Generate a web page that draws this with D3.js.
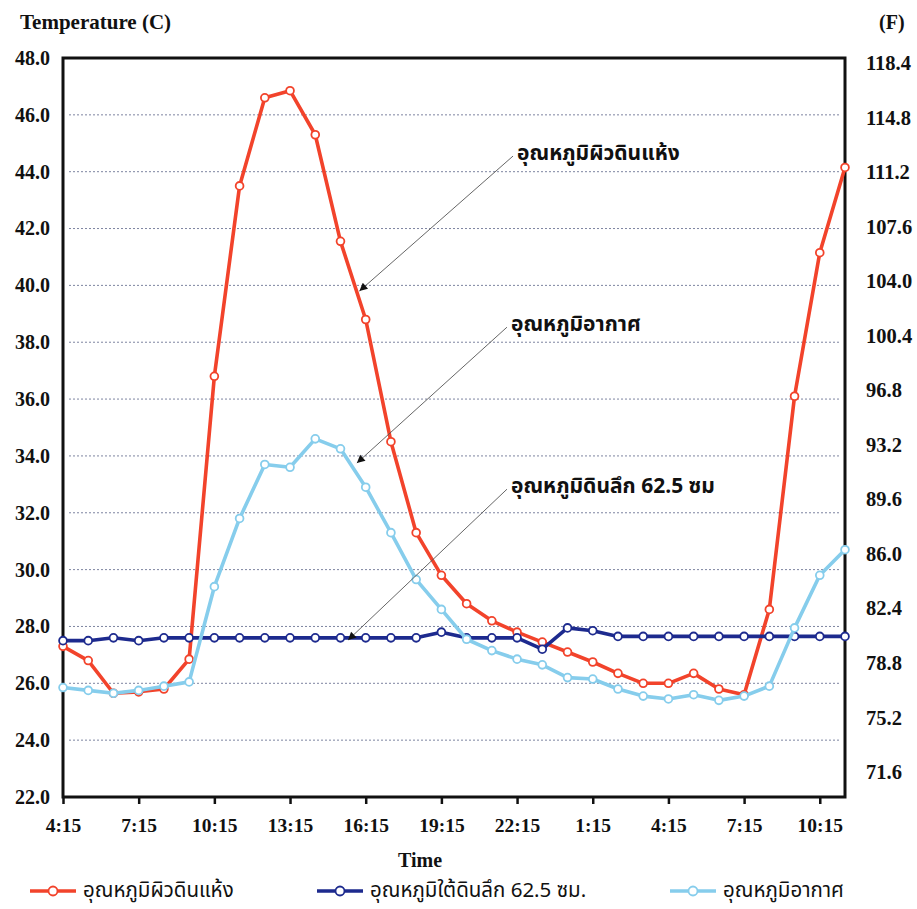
<!DOCTYPE html>
<html>
<head>
<meta charset="utf-8">
<script src="https://cdn.jsdelivr.net/npm/d3@7"></script>
<style>
  body { margin: 0; background: #fff; }
  svg text { fill: #111; }
</style>
</head>
<body>
<svg id="chart" width="917" height="909"></svg>
<script>
// Hourly readings, 4:15 on day one through 11:15 the next day
const times = ["4:15","5:15","6:15","7:15","8:15","9:15","10:15","11:15","12:15","13:15",
  "14:15","15:15","16:15","17:15","18:15","19:15","20:15","21:15","22:15","23:15",
  "0:15","1:15","2:15","3:15","4:15","5:15","6:15","7:15","8:15","9:15","10:15","11:15"];

// Dry soil surface temperature (°C)
const drySurface = [27.3, 26.8, 25.65, 25.7, 25.8, 26.85, 36.8, 43.5, 46.6, 46.85,
  45.3, 41.55, 38.8, 34.5, 31.3, 29.8, 28.8, 28.2, 27.8, 27.45,
  27.1, 26.75, 26.35, 26.0, 26.0, 26.35, 25.8, 25.6, 28.6, 36.1, 41.15, 44.15];

// Soil temperature at 62.5 cm depth (°C)
const deepSoil = [27.5, 27.5, 27.6, 27.5, 27.6, 27.6, 27.6, 27.6, 27.6, 27.6,
  27.6, 27.6, 27.6, 27.6, 27.6, 27.8, 27.6, 27.6, 27.6, 27.2,
  27.95, 27.85, 27.65, 27.65, 27.65, 27.65, 27.65, 27.65, 27.65, 27.65, 27.65, 27.65];

// Air temperature (°C)
const airTemp = [25.85, 25.75, 25.65, 25.75, 25.9, 26.05, 29.4, 31.8, 33.7, 33.6,
  34.6, 34.25, 32.9, 31.3, 29.65, 28.6, 27.55, 27.15, 26.85, 26.65,
  26.2, 26.15, 25.8, 25.55, 25.45, 25.6, 25.4, 25.55, 25.9, 27.95, 29.8, 30.7];

const celsiusTicks = [22, 24, 26, 28, 30, 32, 34, 36, 38, 40, 42, 44, 46, 48];
const fahrenheitTicks = [71.6, 75.2, 78.8, 82.4, 86.0, 89.6, 93.2, 96.8, 100.4, 104.0, 107.6, 111.2, 114.8, 118.4];
const timeTickIndex = [0, 3, 6, 9, 12, 15, 18, 21, 24, 27, 30];

const seriesNames = ["อุณหภูมิผิวดินแห้ง", "อุณหภูมิใต้ดินลึก 62.5 ซม.", "อุณหภูมิอากาศ"];
const seriesColors = ["#f2432b", "#1d2a8e", "#86cdec"];

// Callout labels: text anchor and arrow target, in (hour index, °C)
const calloutText = ["อุณหภูมิผิวดินแห้ง", "อุณหภูมิอากาศ", "อุณหภูมิดินลึก 62.5 ซม"];
const calloutFrom = [[17.84, 44.55], [17.6, 38.53], [17.6, 32.83]];
const calloutTo = [[11.75, 39.8], [11.65, 33.75], [11.3, 27.52]];

const svg = d3.select("#chart");
const plotLeft = 63, plotRight = 845, plotTop = 58, plotBottom = 797;

const x = d3.scaleLinear().domain([0, times.length - 1]).range([plotLeft, plotRight]);
const y = d3.scaleLinear().domain([22, 48]).range([plotBottom, plotTop]);
const yF = d3.scaleLinear().domain([71.6, 118.4]).range([772, 63]);

const serif = "'Liberation Serif', 'Times New Roman', serif";
const thai = "'Noto Sans Thai', 'Noto Sans', 'DejaVu Sans', sans-serif";

// Arrow marker for callouts
svg.append("defs").append("marker")
  .attr("id", "arrow").attr("viewBox", "0 0 10 10")
  .attr("refX", 10).attr("refY", 5)
  .attr("markerWidth", 12).attr("markerHeight", 8)
  .attr("markerUnits", "userSpaceOnUse")
  .attr("orient", "auto")
  .append("path").attr("d", "M0,0 L10,5 L0,10 Z").attr("fill", "#111");

// Gridlines
svg.append("g").selectAll("line")
  .data(celsiusTicks.filter(d => d > 22 && d < 48))
  .join("line")
  .attr("x1", plotLeft + 6).attr("x2", plotRight - 4)
  .attr("y1", d => y(d)).attr("y2", d => y(d))
  .attr("stroke", "#7d84a0").attr("stroke-width", 1)
  .attr("stroke-dasharray", "2,2");

// Left axis (°C)
const yAxis = svg.append("g").attr("transform", `translate(${plotLeft},0)`)
  .call(d3.axisLeft(y).tickValues(celsiusTicks).tickFormat(d3.format(".1f")).tickSize(0).tickPadding(13));
yAxis.select(".domain").remove();
yAxis.selectAll("text").attr("font-family", serif).attr("font-weight", "bold").attr("font-size", 20);

// Right axis (°F)
const yAxisR = svg.append("g").attr("transform", `translate(${plotRight},0)`)
  .call(d3.axisRight(yF).tickValues(fahrenheitTicks).tickFormat(d3.format(".1f")).tickSize(0).tickPadding(21));
yAxisR.select(".domain").remove();
yAxisR.selectAll("text").attr("font-family", serif).attr("font-weight", "bold").attr("font-size", 20.5);

// Bottom axis (time)
const xAxis = svg.append("g").attr("transform", `translate(0,${plotBottom})`)
  .call(d3.axisBottom(x).tickValues(timeTickIndex).tickFormat(i => times[i]).tickSize(7).tickPadding(14));
xAxis.select(".domain").remove();
xAxis.selectAll("line").attr("stroke", "#111").attr("stroke-width", 2.5);
xAxis.selectAll("text").attr("font-family", serif).attr("font-weight", "bold").attr("font-size", 19.5);

// Plot frame
svg.append("rect")
  .attr("x", plotLeft).attr("y", plotTop)
  .attr("width", plotRight - plotLeft).attr("height", plotBottom - plotTop)
  .attr("fill", "none").attr("stroke", "#111").attr("stroke-width", 3);

// Axis titles
svg.append("text").attr("x", 20).attr("y", 29)
  .attr("font-family", serif).attr("font-weight", "bold").attr("font-size", 21)
  .text("Temperature (C)");
svg.append("text").attr("x", 879).attr("y", 29)
  .attr("font-family", serif).attr("font-weight", "bold").attr("font-size", 20)
  .text("(F)");
svg.append("text").attr("x", 420).attr("y", 867).attr("text-anchor", "middle")
  .attr("font-family", serif).attr("font-weight", "bold").attr("font-size", 20)
  .text("Time");

// Series
const allSeries = [drySurface, deepSoil, airTemp];
const line = d3.line().x((d, i) => x(i)).y(d => y(d));
allSeries.forEach((vals, s) => {
  const g = svg.append("g");
  g.append("path").datum(vals)
    .attr("d", line).attr("fill", "none")
    .attr("stroke", seriesColors[s]).attr("stroke-width", 3.6)
    .attr("stroke-linejoin", "round");
  g.selectAll("circle").data(vals).join("circle")
    .attr("cx", (d, i) => x(i)).attr("cy", d => y(d)).attr("r", 3.9)
    .attr("fill", "#fff").attr("stroke", seriesColors[s]).attr("stroke-width", 1.8);
});

// Callouts
calloutText.forEach((t, k) => {
  const [fi, fv] = calloutFrom[k];
  const [ti, tv] = calloutTo[k];
  svg.append("line")
    .attr("x1", x(fi)).attr("y1", y(fv))
    .attr("x2", x(ti)).attr("y2", y(tv))
    .attr("stroke", "#555").attr("stroke-width", 0.9)
    .attr("marker-end", "url(#arrow)");
  svg.append("text")
    .attr("x", x(fi) + 4).attr("y", y(fv) + 4)
    .attr("font-family", thai).attr("font-weight", "bold").attr("font-size", 21)
    .text(t);
});

// Legend
const legendX = [30, 317, 670];
const legendY = 891;
seriesNames.forEach((name, s) => {
  const g = svg.append("g").attr("transform", `translate(${legendX[s]},${legendY})`);
  g.append("line").attr("x1", 0).attr("x2", 46).attr("y1", 0).attr("y2", 0)
    .attr("stroke", seriesColors[s]).attr("stroke-width", 3.6);
  g.append("circle").attr("cx", 23).attr("cy", 0).attr("r", 4.5)
    .attr("fill", "#fff").attr("stroke", seriesColors[s]).attr("stroke-width", 1.8);
  g.append("text").attr("x", 53).attr("y", 6)
    .attr("font-family", thai).attr("font-size", 20.5)
    .text(name);
});
</script>
</body>
</html>
